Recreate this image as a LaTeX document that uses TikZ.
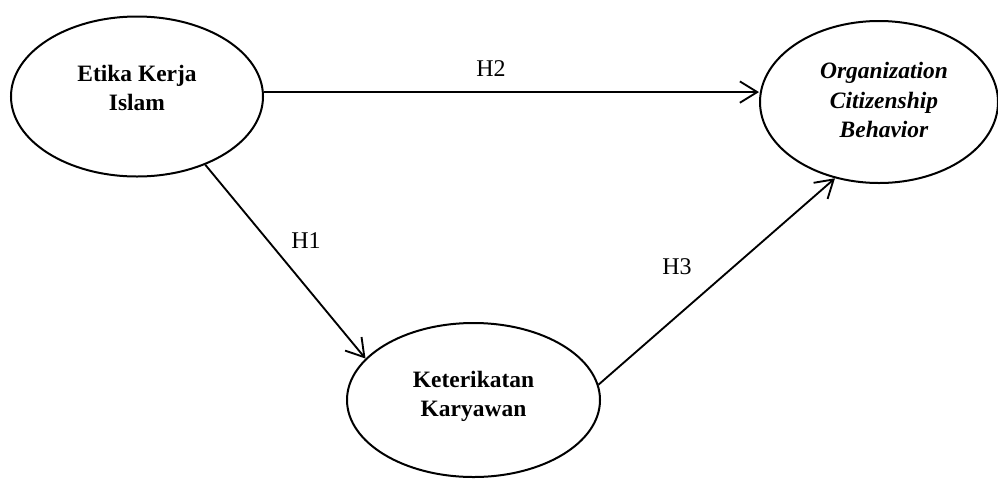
\documentclass[tikz,border=0pt]{standalone}
\usepackage{fontspec}
\setmainfont{Liberation Serif}
\usetikzlibrary{arrows.meta,shapes.geometric}
\begin{document}
\begin{tikzpicture}[x=0.75pt,y=-0.75pt,
  construct/.style={draw=black,line width=1.5pt,ellipse,inner sep=0pt,fill=white},
  ctext/.style={inner sep=0pt,align=center,font=\fontsize{17.6}{21.8}\selectfont\bfseries},
  hyp/.style={inner sep=0pt,font=\fontsize{18}{22}\selectfont},
  path/.style={line width=1.4pt,-{Straight Barb[length=13pt,width=16pt,line width=1.4pt]}}]
\useasboundingbox (0,0) rectangle (998,479);

% latent constructs
\node[construct,minimum width=189pt,minimum height=120pt] (eki) at (137,96.5) {};
\node[construct,minimum width=178.5pt,minimum height=121.5pt] (ocb) at (879,102) {};
\node[construct,minimum width=189.75pt,minimum height=115.5pt] (kk) at (473.5,400) {};

\node[ctext] (eki-t) at (137,88) {Etika Kerja\\Islam};
\node[ctext,font=\fontsize{17.6}{21.8}\selectfont\bfseries\itshape] (ocb-t) at (884,100) {Organization\\Citizenship\\Behavior};
\node[ctext] (kk-t) at (473.5,396.5) {Keterikatan\\Karyawan};

% hypothesised paths
\coordinate (h2start) at (eki.2);
\draw[path] (h2start) -- (h2start -| ocb.west);
\draw[path] (eki.-45.2) -- (kk.159.7);
\draw[path] (kk.7.7) -- (ocb.-120);

\node[hyp] (h1) at (306,241) {H1};
\node[hyp] (h2) at (491,69) {H2};
\node[hyp] (h3) at (677,267) {H3};
\end{tikzpicture}
\end{document}
